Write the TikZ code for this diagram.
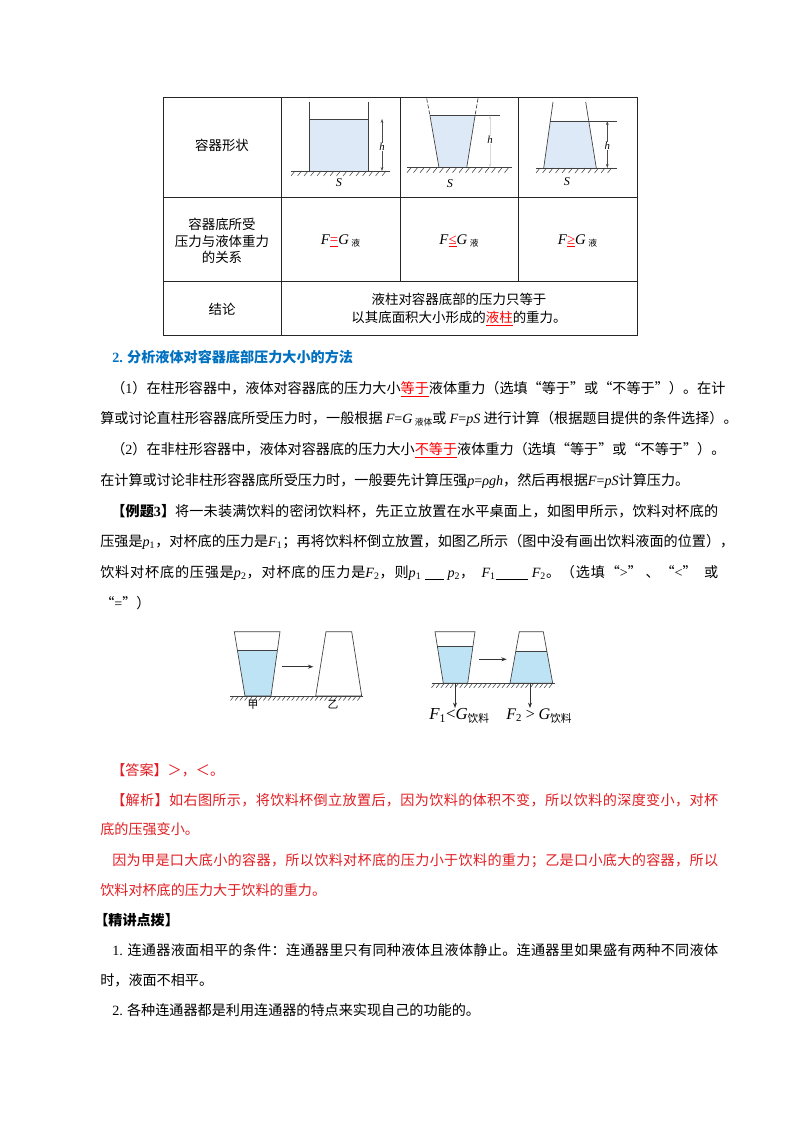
\documentclass[tikz,border=0pt]{standalone}
\usepackage{fontspec}
\setmainfont{Noto Sans CJK SC}
\newfontfamily\tnr{Liberation Serif}
\usepackage{xcolor}
\usepackage{tikz}
\usetikzlibrary{arrows.meta}

\definecolor{azul}{RGB}{0,112,192}
\definecolor{rojo}{RGB}{225,30,35}
\definecolor{liqtab}{RGB}{221,233,246}
\definecolor{liqvaso}{RGB}{190,227,244}

% espacio elastico entre caracteres chinos, para justificar lineas
\XeTeXinterchartokenstate=1
\newXeTeXintercharclass\clasecjk
\count255="4E00
\loop\XeTeXcharclass\count255=\clasecjk\ifnum\count255<"9FFF\advance\count255 by 1\repeat
\count255="3000
\loop\XeTeXcharclass\count255=\clasecjk\ifnum\count255<"303F\advance\count255 by 1\repeat
\count255="FF00
\loop\XeTeXcharclass\count255=\clasecjk\ifnum\count255<"FFEF\advance\count255 by 1\repeat
\XeTeXcharclass"201C=\clasecjk
\XeTeXcharclass"201D=\clasecjk
\XeTeXinterchartoks\clasecjk\clasecjk={\hskip0pt plus 2pt\relax}

\newcommand\vb[1]{{\tnr\itshape #1}}
\newcommand\xb[1]{\textsubscript{\tnr #1}}
\newcommand\hong[1]{\textcolor{red}{\underline{#1}}}
\newcommand\pequeno[1]{\raisebox{-1.5pt}{\fontsize{6.5}{7}\selectfont #1}}
\newcommand\hueco[1]{\rule[-2pt]{#1}{0.5pt}}
\newcommand\llena[1]{\hbox to 459.6pt{#1}}
\newcommand\llenai[1]{\hbox to 451.4pt{#1}}

\begin{document}
\begin{tikzpicture}[x=0.74375pt, y=-0.74375pt,
  linea/.style={anchor=base west, inner sep=0pt, font=\fontsize{10.5}{12}\selectfont},
  celda/.style={inner sep=0pt, align=center, font=\fontsize{10}{12.5}\selectfont},
  borde/.style={line width=0.7pt, black!85},
  pared/.style={line width=0.5pt, black!75},
  rayado/.style={line width=0.4pt, black!75},
  flecha/.style={-{Stealth[length=4pt,width=3pt]}, line width=0.6pt, black!80},
  cota/.style={{Stealth[length=3pt,width=2pt]}-{Stealth[length=3pt,width=2pt]}, line width=0.3pt, black!70},
  etiq/.style={inner sep=0.5pt, font=\fontsize{8}{8}\selectfont}]

  % Fondo y margenes
  \fill[white] (0,0) rectangle (800,1132);
  \useasboundingbox (0,0) rectangle (800,1132);

  % Tabla
  \draw[borde] (163,97.7) rectangle (637,335);
  \draw[borde] (163,197.7) -- (637,197.7);
  \draw[borde] (163,281) -- (637,281);
  \draw[borde] (281,97.7) -- (281,335);
  \draw[borde] (400,97.7) -- (400,281);
  \draw[borde] (518,97.7) -- (518,281);

  \node[celda] (forma) at (222,145) {容器形状};
  \node[celda] (relacion) at (222,241) {容器底所受\\压力与液体重力\\的关系};
  \node[celda] (igual) at (340.5,241) {\fontsize{11}{12}\selectfont\vb{F}\hong{\tnr =}\vb{G}\,\pequeno{液}};
  \node[celda] (menor) at (459,241) {\fontsize{11}{12}\selectfont\vb{F}\hong{\tnr ≤}\vb{G}\,\pequeno{液}};
  \node[celda] (mayor) at (577.5,241) {\fontsize{11}{12}\selectfont\vb{F}\hong{\tnr ≥}\vb{G}\,\pequeno{液}};
  \node[celda] (conclusion) at (222,309) {结论};
  \node[celda, font=\fontsize{10}{13}\selectfont] (columna) at (459,309.5) {液柱对容器底部的压力只等于\\以其底面积大小形成的\hong{液柱}的重力。};

  % Recipiente recto
  \fill[liqtab] (309.3,119) rectangle (368.7,171);
  \draw[pared] (309.3,101.7) -- (309.3,171);
  \draw[pared] (368.7,101.7) -- (368.7,171);
  \draw[pared] (309.3,119) -- (368.7,119);
  \draw[pared] (291,171) -- (390,171);
  \foreach \x in {295,301.5,...,390} \draw[rayado] (\x,171) -- ++(-4,5);
  \coordinate (a1) at (382,119);
  \coordinate (b1) at (382,171);
  \draw[cota] (a1) -- (b1);
  \node[etiq, fill=white, font=\fontsize{8}{8}\selectfont\tnr\itshape] (h1) at (382,147) {h};
  \node[etiq, font=\fontsize{9}{9}\selectfont\tnr\itshape] (s1) at (339,183) {S};

  % Recipiente de boca ancha
  \fill[liqtab] (429.9,115.3) -- (475.1,115.3) -- (466.7,167.7) -- (439,167.7) -- cycle;
  \draw[pared, dash pattern=on 3pt off 1.5pt] (426.7,98.5) -- (429.9,115.3);
  \draw[pared, dash pattern=on 3pt off 1.5pt] (478,98.5) -- (475.1,115.3);
  \draw[pared] (429.9,115.3) -- (439,167.7);
  \draw[pared] (475.1,115.3) -- (466.7,167.7);
  \draw[pared] (429.9,115.3) -- (500,115.3);
  \draw[pared] (407,167.7) -- (512,167.7);
  \foreach \x in {411,417.5,...,512} \draw[rayado] (\x,167.7) -- ++(-4,5);
  \coordinate (a2) at (490,115.3);
  \coordinate (b2) at (490,167.7);
  \draw[cota, draw=black!15] (a2) -- (b2);
  \node[etiq, fill=white, font=\fontsize{8}{8}\selectfont\tnr\itshape] (h2) at (490,140) {h};
  \node[etiq, font=\fontsize{9}{9}\selectfont\tnr\itshape] (s2) at (450,184) {S};

  % Recipiente de boca estrecha
  \fill[liqtab] (550.3,121) -- (588.8,121) -- (596.3,168) -- (543.7,168) -- cycle;
  \draw[pared] (553,102) -- (543.7,168);
  \draw[pared] (585.7,102) -- (596.3,168);
  \draw[pared] (550.3,121) -- (617,121);
  \draw[pared] (536,168) -- (617,168);
  \foreach \x in {540,546.5,...,617} \draw[rayado] (\x,168) -- ++(-4,5);
  \coordinate (a3) at (607.3,121);
  \coordinate (b3) at (607.3,168);
  \draw[cota] (a3) -- (b3);
  \node[etiq, fill=white, font=\fontsize{8}{8}\selectfont\tnr\itshape] (h3) at (607.3,146) {h};
  \node[etiq, font=\fontsize{9}{9}\selectfont\tnr\itshape] (s3) at (567,182) {S};

  % Texto
  \node[linea, text=azul, font=\fontsize{10.5}{12}\selectfont\bfseries] (titulo) at (112,362) {{\tnr 2.} 分析液体对容器底部压力大小的方法};
  \node[linea] (p1) at (111,393) {\llenai{（{\tnr 1}）在柱形容器中，液体对容器底的压力大小\hong{等于}液体重力（选填“等于”或“不等于”）。在计}};
  \node[linea] (p2) at (100,423) {算或讨论直柱形容器底所受压力时，一般根据 \vb{F}{\tnr =}\vb{G}\,\pequeno{液体}或 \vb{F}{\tnr =}\vb{pS} 进行计算（根据题目提供的条件选择）。};
  \node[linea] (p3) at (111,454) {（{\tnr 2}）在非柱形容器中，液体对容器底的压力大小\hong{不等于}液体重力（选填“等于”或“不等于”）。};
  \node[linea] (p4) at (100,485) {在计算或讨论非柱形容器底所受压力时，一般要先计算压强\vb{p}{\tnr =}\vb{ρgh}，然后再根据\vb{F}{\tnr =}\vb{pS}计算压力。};
  \node[linea] (e1) at (111,516) {\llenai{{\bfseries 【例题{\tnr 3}】}将一未装满饮料的密闭饮料杯，先正立放置在水平桌面上，如图甲所示，饮料对杯底的}};
  \node[linea] (e2) at (100,546) {\llena{压强是\vb{p}\xb{1}，对杯底的压力是\vb{F}\xb{1}；再将饮料杯倒立放置，如图乙所示（图中没有画出饮料液面的位置），}};
  \node[linea] (e3) at (100,577) {\llena{饮料对杯底的压强是\vb{p}\xb{2}，对杯底的压力是\vb{F}\xb{2}，则\vb{p}\xb{1} \hueco{14pt} \vb{p}\xb{2}，\ \ \vb{F}\xb{1}\hueco{24pt} \vb{F}\xb{2}。（选填“{\tnr >}” 、“{\tnr <}” \ 或}};
  \node[linea] (e4) at (100,608) {“{\tnr =}”）};

  % Figura izquierda
  \fill[liqvaso] (237.3,650) -- (277.4,650) -- (271,696) -- (245,696) -- cycle;
  \draw[pared] (234.3,631.7) -- (280,631.7) -- (271,696) -- (245,696) -- cycle;
  \draw[pared] (237.3,650) -- (277.4,650);
  \coordinate (i1) at (282.3,666.7);
  \coordinate (i2) at (313.3,666.7);
  \draw[flecha] (i1) -- (i2);
  \draw[pared, fill=white] (326,631.7) -- (351.7,631.7) -- (361.7,696) -- (315.7,696) -- cycle;
  \draw[pared] (230,696) -- (363,696);
  \foreach \x in {234,238.7,...,363} \draw[rayado] (\x,696) -- ++(-3.5,4.5);
  \node[etiq] (jia) at (253,705) {甲};
  \node[etiq] (yi) at (333,705) {乙};

  % Figura derecha
  \fill[liqvaso] (437.4,646.7) -- (472.9,646.7) -- (467.7,683.3) -- (443.3,683.3) -- cycle;
  \draw[pared] (435,631.7) -- (475,631.7) -- (467.7,683.3) -- (443.3,683.3) -- cycle;
  \draw[pared] (437.4,646.7) -- (472.9,646.7);
  \coordinate (d1) at (479,659.3);
  \coordinate (d2) at (506.7,659.3);
  \draw[flecha] (d1) -- (d2);
  \fill[liqvaso] (515.7,651.7) -- (546.9,651.7) -- (552.7,683.3) -- (510,683.3) -- cycle;
  \draw[pared] (519.3,631.7) -- (543.3,631.7) -- (552.7,683.3) -- (510,683.3) -- cycle;
  \draw[pared] (515.7,651.7) -- (546.9,651.7);
  \draw[pared] (431.7,683.3) -- (555,683.3);
  \foreach \x in {435,439.7,...,555} \draw[rayado] (\x,683.3) -- ++(-3.5,4.5);
  \coordinate (f1a) at (455,683.3);
  \coordinate (f1b) at (455,708);
  \coordinate (f2a) at (530,683.3);
  \coordinate (f2b) at (530,708);
  \draw[flecha] (f1a) -- (f1b);
  \draw[flecha] (f2a) -- (f2b);
  \node[anchor=west, inner sep=0pt, font=\fontsize{12.5}{12}\selectfont] (fuerza1) at (429,716) {\vb{F}\xb{1}{\tnr <}\vb{G}\raisebox{-2pt}{\fontsize{8}{8}\selectfont 饮料}};
  \node[anchor=west, inner sep=0pt, font=\fontsize{12}{12}\selectfont] (fuerza2) at (506,716) {\vb{F}\xb{2} {\tnr >} \vb{G}\raisebox{-2pt}{\fontsize{8}{8}\selectfont 饮料}};

  % Respuesta y analisis
  \node[linea, text=rojo] (r1) at (111,775) {【答案】＞，＜。};
  \node[linea, text=rojo] (r2) at (111,805) {\llenai{【解析】如右图所示，将饮料杯倒立放置后，因为饮料的体积不变，所以饮料的深度变小，对杯}};
  \node[linea, text=rojo] (r3) at (100,834) {底的压强变小。};
  \node[linea, text=rojo] (r4) at (112,865) {\hbox to 450.6pt{因为甲是口大底小的容器，所以饮料对杯底的压力小于饮料的重力；乙是口小底大的容器，所以}};
  \node[linea, text=rojo] (r5) at (100,895) {饮料对杯底的压力大于饮料的重力。};

  % Puntos clave
  \node[linea, font=\fontsize{10.5}{12}\selectfont\bfseries] (k0) at (94,925) {【精讲点拨】};
  \node[linea] (k1) at (112,955) {\hbox to 450.6pt{{\tnr 1.} 连通器液面相平的条件：连通器里只有同种液体且液体静止。连通器里如果盛有两种不同液体}};
  \node[linea] (k2) at (100,985) {时，液面不相平。};
  \node[linea] (k3) at (112,1015) {{\tnr 2.} 各种连通器都是利用连通器的特点来实现自己的功能的。};
\end{tikzpicture}
\end{document}
